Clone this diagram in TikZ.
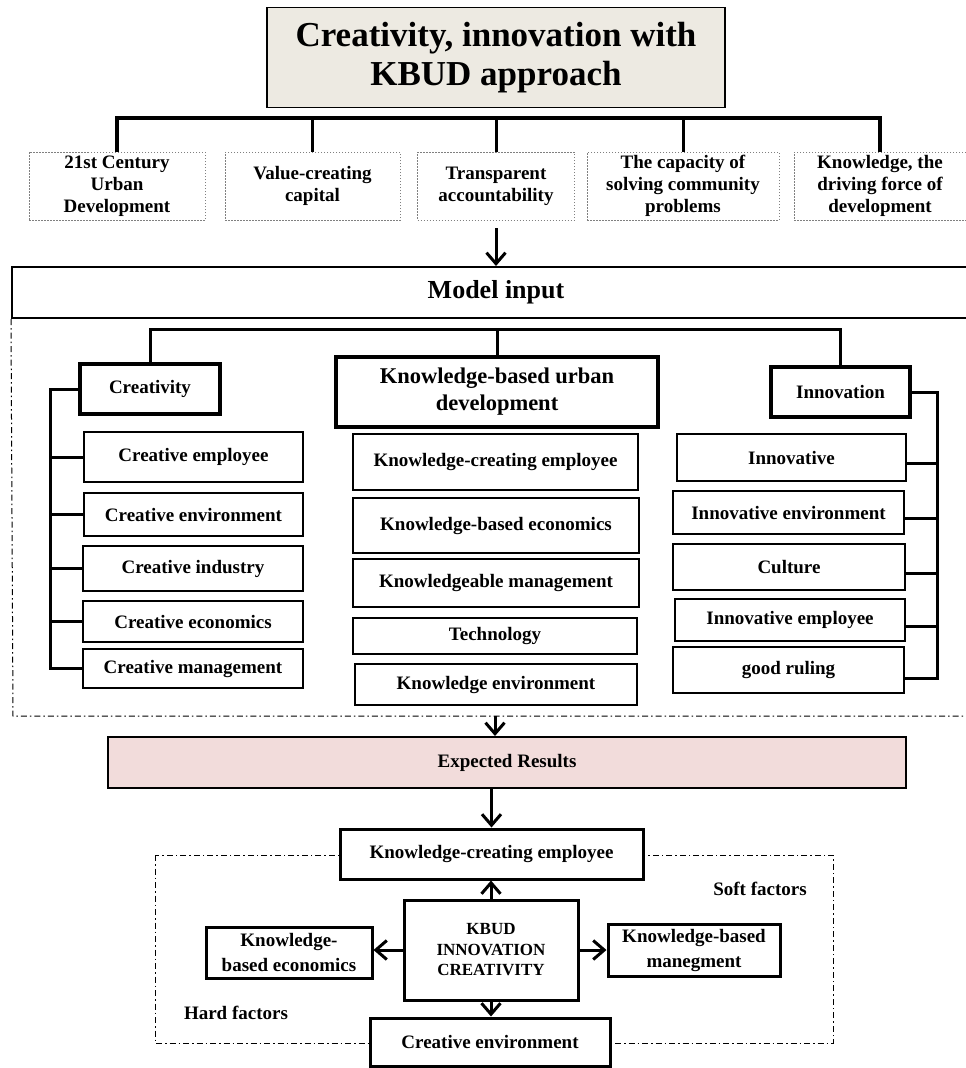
\documentclass[tikz,border=0pt]{standalone}
\usepackage{fontspec}
\setmainfont{Liberation Serif}
\usetikzlibrary{positioning, arrows.meta}
\definecolor{titlebg}{RGB}{237,234,226}
\definecolor{resultbg}{RGB}{242,220,219}

\begin{document}
\begin{tikzpicture}[
    x=1pt, y=-1pt,
    wh/.style 2 args={minimum width=#1pt, minimum height=#2pt},
    txt/.style={font=\bfseries\fontsize{19}{22}\selectfont, align=center, inner sep=1pt},
    title/.style={draw, fill=titlebg, line width=1.5pt, align=center, font=\bfseries\fontsize{35}{39}\selectfont},
    goal/.style={txt, draw=gray, dash pattern=on 1.5pt off 1.5pt, line width=0.8pt},
    sub/.style={txt, draw, fill=white, line width=1.5pt},
    head/.style={txt, draw, fill=white, line width=3.5pt},
    bus/.style={line width=3pt},
    arrow/.style={line width=3pt, -{Straight Barb[length=11pt, width=19pt]}},
    frame/.style={line width=1pt, dash pattern=on 6pt off 3pt on 1.5pt off 3pt}
  ]
    \useasboundingbox (0,0) rectangle (966,1068);
    \clip (0,0) rectangle (966,1068);

    % Top level
    \node[title, wh={458}{100}] (title) at (496,57.5) {Creativity, innovation with\\KBUD approach};

    % Goals
    \node[goal, wh={176}{68}] (g1) at (117,186) {21st Century\\Urban\\Development};
    \node[goal, wh={175}{68}] (g2) at (312.5,186) {Value-creating\\capital};
    \node[goal, wh={157}{68}] (g3) at (496,186) {Transparent\\accountability};
    \node[goal, wh={192}{68}] (g4) at (683,186) {The capacity of\\solving community\\problems};
    \node[goal, wh={172}{68}] (g5) at (880,186) {Knowledge, the\\driving force of\\development};

    \coordinate (topbus) at (496,118);
    \draw[bus, line width=3.5pt] (g1.north) |- (topbus) -| (g5.north);
    \foreach \n in {g2,g3,g4}
      \draw[bus] (\n.north) -- (\n.north |- topbus);

    % Model input
    \node[sub, line width=2pt, wh={968}{51}, font=\bfseries\fontsize{26}{30}\selectfont] (model) at (496,292.5) {Model input};
    \draw[arrow] ([yshift=-8pt]g3.south) -- (g3.south |- model.north);
    \draw[frame] (model.south west) -- (13,716) -- (980,716);

    % Second level
    \node[head, wh={140}{50}] (cr) at (150,389) {Creativity};
    \node[head, wh={322}{70}, font=\bfseries\fontsize{22.5}{27}\selectfont] (kb) at (497,392) {Knowledge-based urban\\development};
    \node[head, wh={139}{50}] (in) at (840.5,392) {Innovation};

    \coordinate (midbus) at (496,329);
    \draw[bus] (cr.north) |- (midbus) -| (in.north);
    \draw[bus] (kb.north) -- (kb.north |- midbus);

    % Third level - under Creativity
    \node[sub, wh={219}{50}] (ce1) at (193.5,457) {Creative employee};
    \node[sub, wh={219}{43}] (ce2) at (193.5,514.5) {Creative environment};
    \node[sub, wh={220}{45}] (ce3) at (193,568.5) {Creative industry};
    \node[sub, wh={220}{41}] (ce4) at (193,621.5) {Creative economics};
    \node[sub, wh={220}{39}] (ce5) at (193,668.5) {Creative management};

    \coordinate (lrail) at (50,389);
    \draw[bus] (cr.west) -- (lrail) |- (ce5.west);
    \foreach \n in {ce1,ce2,ce3,ce4}
      \draw[bus] (\n.west) -- (\n.west -| lrail);

    % Third level - under KBUD
    \node[sub, wh={285}{56}] (kb1) at (495.5,462) {Knowledge-creating employee};
    \node[sub, wh={286}{55}] (kb2) at (496,525.5) {Knowledge-based economics};
    \node[sub, wh={286}{48}] (kb3) at (496,583) {Knowledgeable management};
    \node[sub, wh={284}{36}] (kb4) at (495,636) {Technology};
    \node[sub, wh={282}{41}] (kb5) at (496,684.5) {Knowledge environment};

    % Third level - under Innovation
    \node[sub, wh={229}{47}] (in1) at (791.5,457.5) {Innovative};
    \node[sub, wh={231}{43}] (in2) at (788.5,512.5) {Innovative environment};
    \node[sub, wh={232}{46}] (in3) at (789,567) {Culture};
    \node[sub, wh={230}{42}] (in4) at (790,620) {Innovative employee};
    \node[sub, wh={231}{46}] (in5) at (788.5,670) {good ruling};

    \coordinate (rrail) at (937,392);
    \draw[bus] (in.east) -- (rrail) |- ([yshift=-8pt]in5.east);
    \foreach \n in {in1,in2,in3,in4}
      \draw[bus] ([yshift=-6pt]\n.east) -- ([yshift=-6pt]\n.east -| rrail);

    % Expected results
    \coordinate (inbot) at (495,716);
    \node[sub, line width=2pt, wh={798}{51}, fill=resultbg] (exp) at (507,762.5) {Expected Results};
    \draw[arrow] (inbot) -- (inbot |- exp.north);

    % Factors
    \draw[frame] (155,855) rectangle (833,1043);
    \node[sub, line width=3pt, wh={303}{50}] (ke) at (491.5,854) {Knowledge-creating employee};
    \node[sub, line width=3pt, wh={174}{100}, font=\bfseries\fontsize{17}{20.5}\selectfont] (kc) at (491,950) {KBUD\\INNOVATION\\CREATIVITY};
    \node[sub, line width=3pt, wh={166}{51}, font=\bfseries\fontsize{19}{25}\selectfont] (kl) at (289,952.5) {Knowledge-\\based economics};
    \node[sub, line width=3pt, wh={172}{52}, font=\bfseries\fontsize{19}{25}\selectfont] (kr) at (694,950) {Knowledge-based\\manegment};
    \node[sub, line width=3pt, wh={240}{48}] (kd) at (490,1042) {Creative environment};
    \node[txt] (soft) at (760,889) {Soft factors};
    \node[txt] (hard) at (236,1013) {Hard factors};

    % Arrows
    \draw[arrow] (ke.north |- exp.south) -- (ke.north);
    \draw[arrow] (kc.north) -- (kc.north |- ke.south);
    \draw[arrow] (kc.west) -- (kc.west -| kl.east);
    \draw[arrow] (kc.east) -- (kc.east -| kr.west);
    \draw[arrow] (kc.south) -- (kc.south |- kd.north);
\end{tikzpicture}
\end{document}
